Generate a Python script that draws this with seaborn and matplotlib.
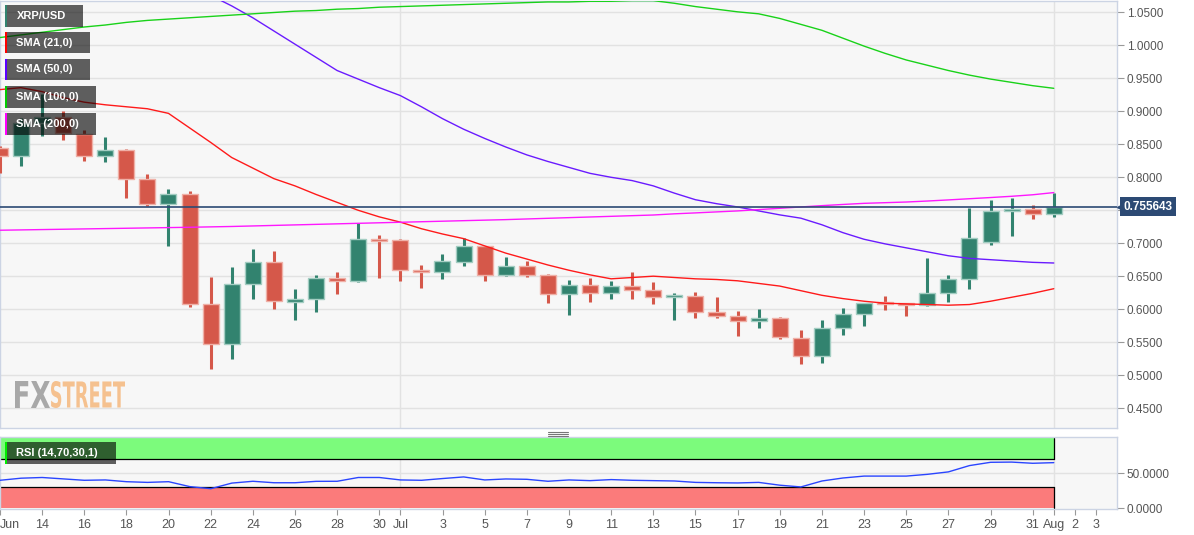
import numpy as np
import pandas as pd
import matplotlib
matplotlib.use('Agg')
import matplotlib.pyplot as plt
import matplotlib.dates as mdates
import matplotlib.transforms as mtransforms
from matplotlib.patches import Rectangle, PathPatch
from matplotlib.textpath import TextPath
from matplotlib.font_manager import FontProperties
from matplotlib.lines import Line2D
from matplotlib.ticker import FormatStrFormatter, FuncFormatter
import seaborn as sns

# XRP/USD daily candles, 12 Jun -> 1 Aug 2021
dates = pd.date_range('2021-06-12', '2021-08-01', freq='D')

opens = [0.845, 0.832, 0.883, 0.891, 0.866, 0.832, 0.841, 0.797, 0.759, 0.774,
         0.608, 0.547, 0.638, 0.672, 0.611, 0.616, 0.648, 0.643, 0.706, 0.7056,
         0.659, 0.6565, 0.672, 0.6955, 0.6515, 0.6652, 0.6515, 0.6223, 0.6364, 0.6247,
         0.6348, 0.6288, 0.6186, 0.6197, 0.596, 0.5894, 0.5818, 0.5868, 0.5565, 0.5288,
         0.5708, 0.592, 0.6096, 0.6086, 0.606, 0.6238, 0.645, 0.7026, 0.7495, 0.7515,
         0.745]
highs = [0.848, 0.890, 0.927, 0.900, 0.871, 0.861, 0.843, 0.805, 0.783, 0.779,
         0.649, 0.664, 0.691, 0.688, 0.630, 0.652, 0.657, 0.731, 0.712, 0.706,
         0.667, 0.683, 0.708, 0.6965, 0.679, 0.6727, 0.653, 0.644, 0.647, 0.6424,
         0.656, 0.641, 0.6247, 0.6258, 0.618, 0.597, 0.600, 0.588, 0.5682, 0.5833,
         0.6015, 0.6096, 0.6197, 0.6096, 0.6773, 0.6515, 0.753, 0.7652, 0.7682, 0.7576,
         0.7762]
lows = [0.806, 0.817, 0.862, 0.856, 0.824, 0.823, 0.769, 0.757, 0.696, 0.604,
        0.509, 0.525, 0.615, 0.600, 0.583, 0.596, 0.623, 0.641, 0.647, 0.643,
        0.632, 0.6455, 0.6656, 0.643, 0.651, 0.649, 0.6096, 0.591, 0.611, 0.615,
        0.615, 0.6076, 0.583, 0.5868, 0.5868, 0.5595, 0.5717, 0.554, 0.5162, 0.5187,
        0.5606, 0.5747, 0.5985, 0.5894, 0.6045, 0.611, 0.630, 0.6974, 0.711, 0.7364,
        0.7398]
closes = [0.832, 0.883, 0.891, 0.867, 0.832, 0.841, 0.797, 0.759, 0.774, 0.608,
          0.547, 0.638, 0.671, 0.613, 0.616, 0.648, 0.643, 0.706, 0.7035, 0.659,
          0.6565, 0.6727, 0.6955, 0.6515, 0.6652, 0.6515, 0.6223, 0.6364, 0.6247, 0.6348,
          0.6288, 0.6186, 0.6197, 0.596, 0.5894, 0.5818, 0.5868, 0.5571, 0.5288, 0.5708,
          0.592, 0.6086, 0.6071, 0.606, 0.6238, 0.645, 0.7086, 0.7495, 0.752, 0.745,
          0.7556]

sma21 = [0.933, 0.936, 0.930, 0.921, 0.914, 0.910, 0.907, 0.904, 0.897, 0.875,
         0.853, 0.830, 0.814, 0.798, 0.787, 0.774, 0.762, 0.750, 0.740, 0.732,
         0.722, 0.714, 0.707, 0.696, 0.685, 0.676, 0.667, 0.659, 0.652, 0.646,
         0.648, 0.650, 0.648, 0.646, 0.645, 0.643, 0.639, 0.635, 0.628, 0.621,
         0.616, 0.612, 0.609, 0.608, 0.607, 0.606, 0.607, 0.612, 0.618, 0.624,
         0.631]
sma50 = [None] * 10 + [
         1.076, 1.060, 1.042, 1.022, 1.002, 0.982, 0.962, 0.949, 0.936, 0.924,
         0.907, 0.889, 0.873, 0.859, 0.846, 0.834, 0.824, 0.815, 0.806, 0.800,
         0.795, 0.787, 0.776, 0.766, 0.760, 0.755, 0.749, 0.743, 0.738, 0.728,
         0.716, 0.706, 0.699, 0.693, 0.687, 0.681, 0.677, 0.675, 0.673, 0.671,
         0.670]
sma100 = [1.012, 1.016, 1.020, 1.024, 1.028, 1.031, 1.035, 1.038, 1.040, 1.042,
          1.044, 1.046, 1.048, 1.050, 1.052, 1.053, 1.055, 1.056, 1.058, 1.059,
          1.060, 1.061, 1.062, 1.063, 1.064, 1.065, 1.066, 1.066, 1.067, 1.067,
          1.068, 1.068, 1.064, 1.059, 1.055, 1.051, 1.048, 1.041, 1.032, 1.023,
          1.011, 0.999, 0.988, 0.978, 0.970, 0.962, 0.955, 0.949, 0.944, 0.939,
          0.935]
sma200 = [0.7197, 0.7202, 0.7207, 0.7212, 0.7217, 0.7222, 0.7227, 0.7232, 0.7237, 0.7242,
          0.7248, 0.7254, 0.7262, 0.7270, 0.7278, 0.7286, 0.7294, 0.7302, 0.7310, 0.7318,
          0.7326, 0.7334, 0.7342, 0.7350, 0.7358, 0.7368, 0.7378, 0.7388, 0.7398, 0.7408,
          0.7418, 0.7428, 0.7446, 0.7460, 0.7475, 0.7490, 0.7510, 0.7530, 0.7550, 0.7570,
          0.7588, 0.7605, 0.7615, 0.7625, 0.7640, 0.7657, 0.7675, 0.7693, 0.7712, 0.7735,
          0.7768]
rsi = [40, 43, 44, 42, 40, 40.5, 38, 37, 38, 31,
       28, 36, 38.6, 36.5, 36.5, 38.5, 38.6, 44, 44, 40.5,
       40, 42.5, 44.8, 40.5, 41.9, 41.4, 38.6, 40.5, 39.5, 41,
       40, 39.5, 39, 37, 36.5, 36.2, 37, 33, 30.5, 39,
       43.3, 46, 46, 46, 48.5, 52, 61, 65.7, 66, 64.3,
       65.2]

last_price = 0.755643

df = pd.DataFrame({'Date': dates, 'Open': opens, 'High': highs, 'Low': lows, 'Close': closes,
                   'SMA21': sma21, 'SMA50': sma50, 'SMA100': sma100, 'SMA200': sma200,
                   'RSI': rsi})
df['SMA50'] = df['SMA50'].astype(float)
df['x'] = mdates.date2num(df['Date'])

sns.set_theme(style='white')
plt.rcParams['font.family'] = ['Liberation Sans', 'DejaVu Sans']

W, H = 1194, 535
fig = plt.figure(figsize=(W / 100, H / 100), dpi=100)
ax = fig.add_axes([0, 1 - 428 / H, 1117 / W, 427.5 / H])
rax = fig.add_axes([0, 1 - 509 / H, 1117 / W, (509 - 437.3) / H])

x0 = df['x'].iloc[0]
xlim = (x0 + 0.008, x0 + 53.0)
jul1 = mdates.date2num(pd.Timestamp('2021-07-01'))
aug1 = mdates.date2num(pd.Timestamp('2021-08-01'))

for a in (ax, rax):
    a.set_facecolor('#f7f7f7')
    for s in a.spines.values():
        s.set_color('#ccd4e4')
        s.set_linewidth(1)
    a.set_xlim(*xlim)
    a.axvline(jul1, color='#e2e2e2', lw=1, zorder=0)
    a.axvline(aug1, color='#e2e2e2', lw=1, zorder=0)

# candles
up = df['Close'] >= df['Open']
colors = np.where(up, '#32836f', '#d5584a')
edges = np.where(up, '#a3cdc2', '#efb0a7')
ax.vlines(df['x'], df['Low'], df['High'], colors=colors, lw=2.2, zorder=3)
body_lo = np.minimum(df['Open'], df['Close'])
body_h = np.maximum((df['Close'] - df['Open']).abs(), 0.003)
ax.bar(df['x'], body_h, bottom=body_lo, width=0.76, color=colors,
       edgecolor=edges, linewidth=1, zorder=4)

# moving averages
sns.lineplot(data=df, x='x', y='SMA21', ax=ax, color='#ff1a1a', lw=1.0, zorder=5)
sns.lineplot(data=df, x='x', y='SMA50', ax=ax, color='#6a1bff', lw=1.0, zorder=5)
sns.lineplot(data=df, x='x', y='SMA100', ax=ax, color='#19d219', lw=1.0, zorder=5)
sns.lineplot(data=df, x='x', y='SMA200', ax=ax, color='#ff17ff', lw=1.0, zorder=5)
ax.axhline(last_price, color='#2c4a74', lw=1.2, zorder=6)

ax.set_ylim(0.4197, 1.0682)
ax.set_yticks(np.arange(0.45, 1.0501, 0.05))
# the 0.7500 label sits under the last-price tag, as in the original
ax.yaxis.set_major_formatter(FuncFormatter(lambda v, p: '' if abs(v - 0.75) < 1e-6 else f'{v:.4f}'))
ax.yaxis.tick_right()
ax.grid(axis='y', color='#e2e2e2', lw=1, zorder=0)
ax.set_axisbelow(True)
ax.tick_params(axis='y', direction='out', length=5, width=0.8, color='#999999',
               labelsize=8.5, labelcolor='#555555', pad=2, right=True)
ax.set_xticks([])
ax.set_xlabel('')
ax.set_ylabel('')

# last price tag
tr = mtransforms.blended_transform_factory(ax.transAxes, ax.transData)
ax.text(1.0277, last_price, f'{last_price:.6f}', transform=tr, ha='center', va='center',
        color='white', fontsize=8.5, fontweight='bold', clip_on=False, zorder=20,
        bbox=dict(boxstyle='square,pad=0.3', fc='#2c4a74', ec='none'))
ax.plot([1.0025], [last_price], marker='<', ms=5, color='#2c4a74', transform=tr,
        clip_on=False, zorder=20)

# RSI panel
rax.fill_between([xlim[0], aug1], 70, 100, color='#7cfb7c', lw=0, zorder=1)
rax.fill_between([xlim[0], aug1], 0, 30, color='#fb7b7b', lw=0, zorder=1)
rax.plot([xlim[0], aug1], [70, 70], color='black', lw=0.9, zorder=2)
rax.plot([xlim[0], aug1], [30, 30], color='black', lw=0.9, zorder=2)
rax.plot([aug1, aug1], [70, 100], color='black', lw=0.9, zorder=2)
rax.plot([aug1, aug1], [0, 30], color='black', lw=0.9, zorder=2)
rax.plot([xlim[0], xlim[0]], [0, 30], color='black', lw=1.2, zorder=2)
rax.plot([xlim[0], xlim[0]], [70, 100], color='black', lw=1.2, zorder=2)
rax.axhline(50, color='#e2e2e2', lw=1, zorder=0)
sns.lineplot(data=df, x='x', y='RSI', ax=rax, color='#2a45ff', lw=1, zorder=3)
rax.set_ylim(-1, 101.4)
rax.set_yticks([0, 50])
rax.yaxis.set_major_formatter(FormatStrFormatter('%.4f'))
rax.yaxis.tick_right()
rax.tick_params(axis='y', direction='out', length=5, width=0.8, color='#999999',
                labelsize=8.5, labelcolor='#555555', pad=2, right=True)
rax.set_xlabel('')
rax.set_ylabel('')

tick_days = [pd.Timestamp('2021-06-12')]
tick_days += list(pd.date_range('2021-06-14', '2021-06-30', freq='2D'))
tick_days += [pd.Timestamp('2021-07-01')]
tick_days += list(pd.date_range('2021-07-03', '2021-07-31', freq='2D'))
tick_days += [pd.Timestamp('2021-08-01'), pd.Timestamp('2021-08-02'), pd.Timestamp('2021-08-03')]
tick_labels = []
for d in tick_days:
    if d.day == 1 or d == tick_days[0]:
        tick_labels.append(d.strftime('%b'))
    else:
        tick_labels.append(str(d.day))
rax.set_xticks(mdates.date2num(tick_days))
rax.set_xticklabels(tick_labels)
rax.tick_params(axis='x', direction='out', length=4, width=0.8, color='#999999',
                labelsize=9, labelcolor='#555555', pad=3, bottom=True)
rax.get_xticklabels()[0].set_ha('left')


def fx(px):
    return px / W


def fy(py):
    return 1 - py / H


# indicator labels, top left
boxes = [('XRP/USD', 5, 83, 5, 27, '#32836f'),
         ('SMA (21,0)', 5, 90, 32, 53, '#ff0000'),
         ('SMA (50,0)', 5, 90, 59, 80, '#5a00ff'),
         ('SMA (100,0)', 5, 96, 86, 108, '#00cc00'),
         ('SMA (200,0)', 5, 96, 113, 135, '#ff00ff'),
         ('RSI (14,70,30,1)', 5, 116, 442, 464, '#00ee00')]
for label, bx0, bx1, by0, by1, c in boxes:
    fig.add_artist(Rectangle((fx(bx0), fy(by1)), fx(bx1) - fx(bx0), (by1 - by0) / H,
                             transform=fig.transFigure, fc='black', alpha=0.62,
                             lw=0, zorder=30))
    fig.add_artist(Rectangle((fx(bx0), fy(by1)), fx(2.4), (by1 - by0) / H,
                             transform=fig.transFigure, fc=c, lw=0, zorder=31))
    fig.text(fx(16.5), fy((by0 + by1) / 2), label, color='white', fontsize=8,
             fontweight='bold', ha='left', va='center', zorder=32)

# FXSTREET watermark
fp = FontProperties(family='DejaVu Sans', weight='bold')
for word, px0, px1, col in [('FX', 15, 50, '#a0a0a0'), ('STREET', 51, 125, '#f5bb84')]:
    tp = TextPath((0, 0), word, size=1, prop=fp)
    ext = tp.get_extents()
    sx = (px1 - px0) / ext.width
    sy = (408 - 381) / ext.height
    path = tp.transformed(mtransforms.Affine2D().translate(-ext.x0, -ext.y0)
                          .scale(sx, sy).translate(px0, H - 408))
    fig.add_artist(PathPatch(path, transform=mtransforms.IdentityTransform(),
                             fc=col, ec='none', alpha=0.9, zorder=25))

# panel resize grip
for gy in (432, 434, 436):
    fig.add_artist(Line2D([fx(548), fx(568)], [fy(gy), fy(gy)], transform=fig.transFigure,
                          color='#777777', lw=0.8))

fig.savefig('out.png', dpi=100)
